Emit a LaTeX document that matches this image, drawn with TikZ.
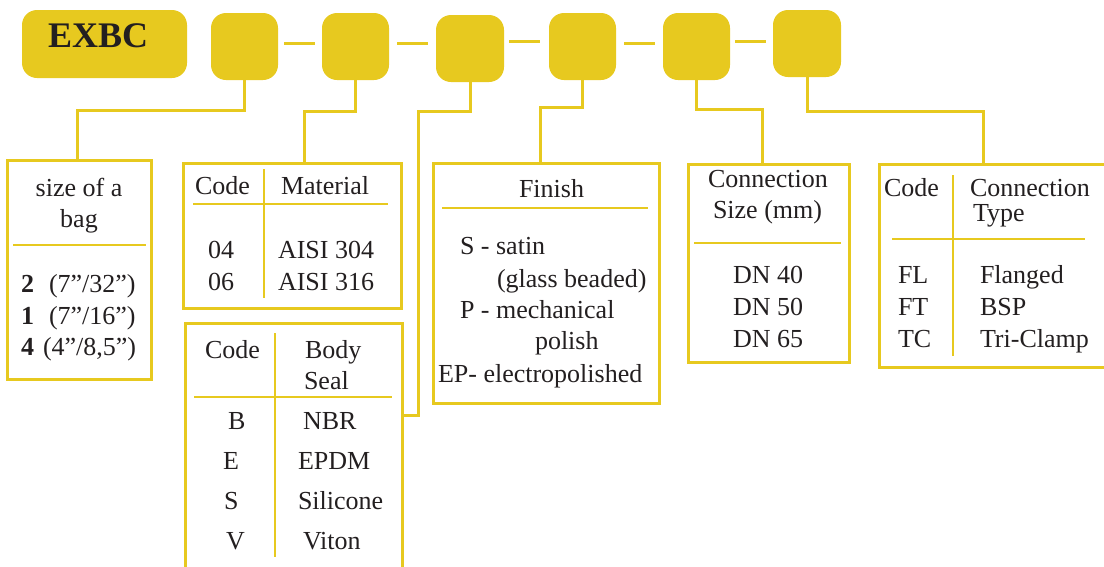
\documentclass[tikz,border=0pt]{standalone}
\usepackage{fontspec}
\setmainfont{Liberation Serif}
\definecolor{ylw}{RGB}{231,201,31}
\definecolor{ink}{RGB}{35,31,32}
\begin{document}
\begin{tikzpicture}[x=1pt,y=-1pt,
  topbox/.style={fill=ylw, rounded corners=15pt, inner sep=0, outer sep=0},
  tablebox/.style={draw=ylw, line width=3pt, inner sep=0, outer sep=0},
  conn/.style={draw=ylw, line width=3pt},
  dashline/.style={draw=ylw, line width=3pt},
  sep/.style={draw=ylw, line width=1.5pt},
  txt/.style={anchor=base west, inner sep=0, outer sep=0, text=ink, font=\fontsize{26}{30}\selectfont},
  big/.style={anchor=base west, inner sep=0, outer sep=0, text=ink, font=\fontsize{36}{40}\selectfont\bfseries}]
\useasboundingbox (0,0) rectangle (1104,566);
\clip (0,0) rectangle (1104,566);

% top row
\node[topbox, minimum width=165pt, minimum height=68pt] (ex) at (104.5,44) {};
\node[big] (exbc) at (48,47) {EXBC};
\node[topbox, minimum width=67pt, minimum height=67pt] (b1) at (244.5,46.5) {};
\node[topbox, minimum width=67pt, minimum height=67pt] (b2) at (355.5,46.5) {};
\node[topbox, minimum width=68pt, minimum height=67pt] (b3) at (470,48.5) {};
\node[topbox, minimum width=67pt, minimum height=67pt] (b4) at (582.5,46.5) {};
\node[topbox, minimum width=67pt, minimum height=67pt] (b5) at (696.5,46.5) {};
\node[topbox, minimum width=68pt, minimum height=67pt] (b6) at (807,43.5) {};

\draw[dashline] ([shift={(6,-3.5)}]b1.east) -- ([shift={(-7,-3.5)}]b2.west);
\draw[dashline] ([shift={(8,-3.5)}]b2.east) -- ([shift={(-8,-5.5)}]b3.west);
\draw[dashline] ([shift={(5,-7.5)}]b3.east) -- ([shift={(-9,-5.5)}]b4.west);
\draw[dashline] ([shift={(8,-3.5)}]b4.east) -- ([shift={(-8,-3.5)}]b5.west);
\draw[dashline] ([shift={(5,-5.5)}]b5.east) -- ([shift={(-7,-2.5)}]b6.west);

% table boxes
\node[tablebox, minimum width=144pt, minimum height=219pt] (size) at (79,269.5) {};
\node[tablebox, minimum width=218pt, minimum height=145pt] (mat) at (292,235.5) {};
\node[tablebox, minimum width=217pt, minimum height=252pt] (seal) at (293.5,449) {};
\node[tablebox, minimum width=226pt, minimum height=240pt] (finish) at (546,283) {};
\node[tablebox, minimum width=161pt, minimum height=198pt] (csize) at (768.5,263) {};
\node[tablebox, minimum width=233pt, minimum height=203pt] (ctype) at (995.5,265.5) {};

% connectors
\draw[conn] (b1.south) -- ++(0,30) -| ([xshift=-2pt]size.north);
\draw[conn] (b2.south) -- ++(0,31) -| ([xshift=12pt]mat.north);
\coordinate (j3) at (418,415);
\draw[conn] (b3.south) -- ++(0,29) -| (j3) -- (j3 -| seal.east);
\draw[conn] (b4.south) -- ++(0,27) -| ([xshift=-6pt]finish.north);
\draw[conn] (b5.south) -- ++(0,29) -| ([xshift=-6.5pt]csize.north);
\draw[conn] (b6.south) -- ++(0,34) -| ([xshift=-12.5pt]ctype.north);

% size of a bag
\draw[sep] (13,245) -- (146,245);
\node[txt, anchor=base] (s1) at (79,196) {size of a};
\node[txt, anchor=base] (s2) at (79,227) {bag};
\node[txt] (s3a) at (21,292) {\bfseries 2};
\node[txt] (s3b) at (49,292) {(7”/32”)};
\node[txt] (s4a) at (21,324) {\bfseries 1};
\node[txt] (s4b) at (49,324) {(7”/16”)};
\node[txt] (s5a) at (21,355) {\bfseries 4};
\node[txt] (s5b) at (43,355) {(4”/8,5”)};

% material
\draw[sep] (264,169) -- (264,298);
\draw[sep] (193,204) -- (388,204);
\node[txt] (m1) at (195,194) {Code};
\node[txt] (m2) at (281,194) {Material};
\node[txt] (m3) at (208,258) {04};
\node[txt] (m4) at (278,258) {AISI 304};
\node[txt] (m5) at (208,290) {06};
\node[txt] (m6) at (278,290) {AISI 316};

% body seal
\draw[sep] (275,333) -- (275,557);
\draw[sep] (194,397) -- (392,397);
\node[txt] (bs1) at (205,358) {Code};
\node[txt] (bs2) at (305,358) {Body};
\node[txt] (bs3) at (304,389) {Seal};
\node[txt] (bs4) at (228,429) {B};
\node[txt] (bs5) at (303,429) {NBR};
\node[txt] (bs6) at (223,469) {E};
\node[txt] (bs7) at (298,469) {EPDM};
\node[txt] (bs8) at (224,509) {S};
\node[txt] (bs9) at (298,509) {Silicone};
\node[txt] (bs10) at (226,549) {V};
\node[txt] (bs11) at (303,549) {Viton};

% finish
\draw[sep] (442,208) -- (648,208);
\node[txt] (f1) at (519,197) {Finish};
\node[txt] (f2) at (460,254) {S - satin};
\node[txt] (f3) at (497,287) {(glass beaded)};
\node[txt] (f4) at (460,318) {P - mechanical};
\node[txt] (f5) at (535,349) {polish};
\node[txt] (f6) at (438,382) {EP- electropolished};

% connection size
\draw[sep] (694,243) -- (841,243);
\node[txt] (c1) at (708,187) {Connection};
\node[txt] (c2) at (713,218) {Size (mm)};
\node[txt] (c3) at (733,283) {DN 40};
\node[txt] (c4) at (733,315) {DN 50};
\node[txt] (c5) at (733,347) {DN 65};

% connection type
\draw[sep] (953,175) -- (953,356);
\draw[sep] (892,239) -- (1085,239);
\node[txt] (t1) at (884,196) {Code};
\node[txt] (t2) at (970,196) {Connection};
\node[txt] (t3) at (973,221) {Type};
\node[txt] (t4) at (898,283) {FL};
\node[txt] (t5) at (980,283) {Flanged};
\node[txt] (t6) at (898,315) {FT};
\node[txt] (t7) at (980,315) {BSP};
\node[txt] (t8) at (898,347) {TC};
\node[txt] (t9) at (980,347) {Tri-Clamp};
\end{tikzpicture}
\end{document}
